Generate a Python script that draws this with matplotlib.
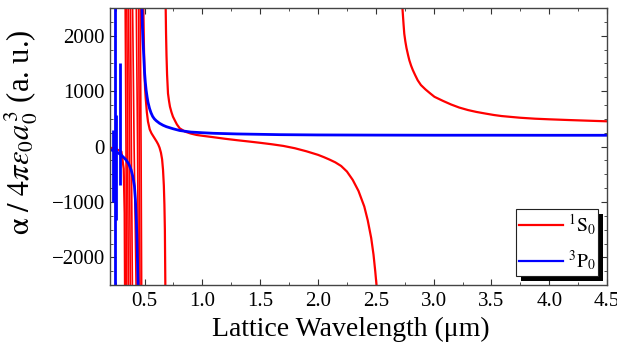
import numpy as np
import matplotlib.pyplot as plt
from matplotlib.patches import Rectangle

# Polarizability (a.u.) vs lattice wavelength (um), one list per branch between resonances

# 1S0 state
s0_left_x = [0.20, 0.25, 0.30, 0.320, 0.328, 0.331]
s0_left_y = [-20, -40, -90, -400, -1200, -2500]

# narrow UV resonances: each branch runs from +2500 right after one pole to -2500 before the next
s0_narrow_x = [[0.333, 0.340, 0.345],
               [0.347, 0.354, 0.360],
               [0.362, 0.370, 0.377],
               [0.379, 0.386, 0.395],
               [0.397, 0.410, 0.427],
               [0.429, 0.440, 0.447],
               [0.449, 0.455, 0.461],
               [0.463, 0.470, 0.475]]
s0_narrow_y = [[2500, 0, -2500]] * 8

s0_mid_x = [0.490, 0.495, 0.500, 0.505, 0.510, 0.520, 0.530, 0.545, 0.560, 0.575,
            0.590, 0.605, 0.618, 0.630, 0.642, 0.652, 0.660, 0.667, 0.672, 0.676,
            0.678, 0.680]
s0_mid_y = [2500, 1800, 1300, 1050, 880, 620, 450, 310, 240, 190,
            140, 90, 40, -20, -110, -230, -420, -700, -1050, -1500,
            -2000, -2500]

s0_ir_x = [0.683, 0.686, 0.690, 0.695, 0.703, 0.712, 0.720, 0.733, 0.746, 0.765,
           0.780, 0.804, 0.850, 0.900, 0.950, 1.000, 1.100, 1.200, 1.300, 1.400,
           1.500, 1.600, 1.700, 1.800, 1.900, 2.000, 2.050, 2.100, 2.150, 2.200,
           2.250, 2.300, 2.350, 2.400, 2.430, 2.460, 2.480, 2.495, 2.506]
s0_ir_y = [2500, 2050, 1650, 1300, 958, 820, 720, 620, 539, 460,
           400, 330, 270, 235, 210, 195, 168, 140, 115, 92,
           68, 42, 12, -30, -85, -149, -190, -235, -285, -350,
           -450, -600, -800, -1080, -1330, -1650, -1950, -2250, -2500]

s0_far_x = [2.730, 2.735, 2.740, 2.746, 2.755, 2.765, 2.780, 2.790, 2.805, 2.820,
            2.840, 2.862, 2.890, 2.930, 2.970, 3.007, 3.080, 3.150, 3.220, 3.297,
            3.370, 3.450, 3.520, 3.587, 3.670, 3.750, 3.877, 4.000, 4.167, 4.350,
            4.500]
s0_far_y = [2500, 2350, 2200, 2036, 1900, 1780, 1640, 1556, 1460, 1380,
            1290, 1197, 1110, 1030, 960, 898, 825, 760, 705, 659,
            625, 595, 570, 551, 535, 520, 503, 492, 479, 466,
            456]

# 3P0 state
p0_left_x = [0.20, 0.21, 0.254, 0.297, 0.340, 0.365, 0.384, 0.400, 0.413, 0.421,
             0.428, 0.434, 0.438, 0.442, 0.445]
p0_left_y = [-40, -60, -90, -149, -239, -320, -418, -550, -718, -950,
             -1257, -1600, -1950, -2300, -2500]

# sharp features at short wavelength (x, top, bottom)
p0_spike_x = [0.226, 0.243, 0.254, 0.291]
p0_spike_top = [300, 2500, 570, 1500]
p0_spike_bot = [-1000, -2500, -1320, -700]

p0_main_x = [0.478, 0.482, 0.487, 0.491, 0.496, 0.500, 0.507, 0.514, 0.522, 0.530,
             0.543, 0.556, 0.570, 0.585, 0.602, 0.630, 0.660, 0.689, 0.746, 0.804,
             0.900, 1.000, 1.094, 1.300, 1.674, 2.000, 2.500, 3.000, 3.500, 4.000,
             4.500]
p0_main_y = [2500, 2150, 1900, 1736, 1520, 1350, 1160, 1018, 900, 800,
             690, 610, 545, 500, 465, 420, 385, 359, 322, 290,
             262, 250, 240, 228, 215, 210, 207, 205, 205, 204,
             204]

plt.rcParams['font.family'] = ['Liberation Serif', 'DejaVu Serif']
plt.rcParams['mathtext.fontset'] = 'stix'

RED = '#ff0000'
BLUE = '#0000ff'

fig = plt.figure(figsize=(6.17, 3.49), dpi=100)
ax = fig.add_axes([0.178, 0.183, 0.806, 0.794])

lw_r = 1.6
lw_b = 2.0

ax.plot(s0_left_x, s0_left_y, color=RED, lw=lw_r, label=r'$^{1}\mathrm{S}_{0}$')
for xs, ys in zip(s0_narrow_x, s0_narrow_y):
    ax.plot(xs, ys, color=RED, lw=1.2)
ax.plot(s0_mid_x, s0_mid_y, color=RED, lw=lw_r)
ax.plot(s0_ir_x, s0_ir_y, color=RED, lw=lw_r)
ax.plot(s0_far_x, s0_far_y, color=RED, lw=lw_r)

ax.plot(p0_left_x, p0_left_y, color=BLUE, lw=lw_b, label=r'$^{3}\mathrm{P}_{0}$')
ax.vlines(p0_spike_x, p0_spike_bot, p0_spike_top, color=BLUE, lw=lw_b)
ax.plot(p0_main_x, p0_main_y, color=BLUE, lw=lw_b)

ax.set_xlim(0.2, 4.5)
ax.set_ylim(-2500, 2500)
ax.set_xticks(np.arange(0.5, 4.51, 0.5))
ax.set_xticks(np.arange(0.25, 4.51, 0.25), minor=True)
ax.set_yticks([-2000, -1000, 0, 1000, 2000])
ax.set_yticks(np.arange(-2500, 2501, 250), minor=True)
ax.set_xticklabels([f'{v:.1f}' for v in np.arange(0.5, 4.51, 0.5)])

ax.tick_params(which='both', direction='in', top=True, right=True,
               labelsize=15, color='#333333')
ax.tick_params(which='major', length=4, width=0.8)
ax.tick_params(which='minor', length=2.5, width=0.6)
ax.tick_params(axis='x', pad=5)
for s in ax.spines.values():
    s.set_color('#444444')
    s.set_linewidth(1.0)

ax.set_xlabel('Lattice Wavelength (\u03bcm)', fontsize=20, labelpad=0)
ax.set_ylabel(r'$\mathrm{\alpha}\ /\ 4\pi\varepsilon_0 a_0^3$ (a. u.)', fontsize=22, labelpad=1)
ax.xaxis.set_label_coords(0.485, -0.115)
ax.yaxis.set_label_coords(-0.14, 0.55)

leg = ax.legend(loc='lower right', fontsize=14, handlelength=2.25, frameon=True,
                fancybox=False, edgecolor='#222222', framealpha=1,
                borderaxespad=0.45, labelspacing=0.6, handletextpad=0.25,
                borderpad=0.15)
leg.get_frame().set_linewidth(0.8)
for line in leg.get_lines():
    line.set_linewidth(1.6)

# solid black drop shadow behind the legend box
fig.canvas.draw()
bb = leg.get_window_extent()
shadow = Rectangle((bb.x0 + 5, bb.y0 - 5), bb.width, bb.height, transform=None,
                   facecolor='black', edgecolor='none', zorder=leg.get_zorder() - 0.1,
                   clip_on=False)
ax.add_artist(shadow)

fig.savefig('out.png', dpi=100)
